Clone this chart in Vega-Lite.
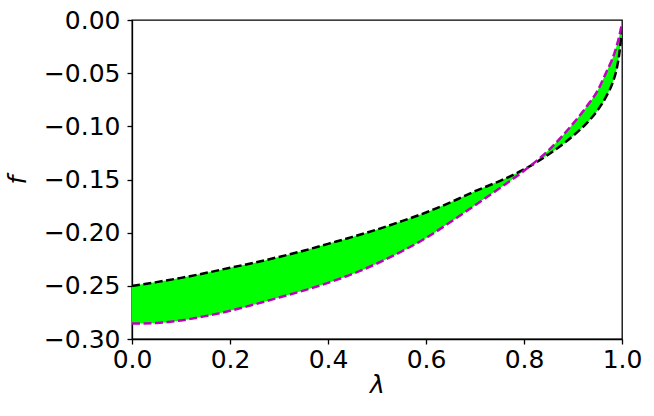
{
  "$schema": "https://vega.github.io/schema/vega-lite/v6.json",
  "autosize": {"type": "none"},
  "padding": {"left": 132, "top": 20, "right": 32, "bottom": 77},
  "width": 490,
  "height": 319,
  "background": "white",
  "config": {
    "view": {"stroke": "black", "strokeWidth": 1.3},
    "font": "DejaVu Sans",
    "axis": {
      "grid": false,
      "domainColor": "black",
      "domainWidth": 1.3,
      "tickColor": "black",
      "tickWidth": 1.3,
      "tickSize": 5,
      "labelFont": "DejaVu Sans",
      "labelFontSize": 25,
      "labelColor": "black",
      "titleFont": "DejaVu Sans",
      "titleFontSize": 25,
      "titleFontStyle": "italic",
      "titleFontWeight": "normal",
      "titleColor": "black"
    }
  },
  "data": {
    "values": [
      {"lam": 0.00, "black": -0.2500, "magenta": -0.2855},
      {"lam": 0.05, "black": -0.2465, "magenta": -0.2850},
      {"lam": 0.10, "black": -0.2425, "magenta": -0.2825},
      {"lam": 0.15, "black": -0.2380, "magenta": -0.2785},
      {"lam": 0.20, "black": -0.2330, "magenta": -0.2735},
      {"lam": 0.25, "black": -0.2282, "magenta": -0.2675},
      {"lam": 0.30, "black": -0.2228, "magenta": -0.2610},
      {"lam": 0.35, "black": -0.2170, "magenta": -0.2545},
      {"lam": 0.40, "black": -0.2105, "magenta": -0.2472},
      {"lam": 0.45, "black": -0.2040, "magenta": -0.2388},
      {"lam": 0.50, "black": -0.1970, "magenta": -0.2290},
      {"lam": 0.55, "black": -0.1893, "magenta": -0.2177},
      {"lam": 0.60, "black": -0.1810, "magenta": -0.2050},
      {"lam": 0.65, "black": -0.1715, "magenta": -0.1900},
      {"lam": 0.70, "black": -0.1610, "magenta": -0.1742},
      {"lam": 0.75, "black": -0.1515, "magenta": -0.1583},
      {"lam": 0.80, "black": -0.1405, "magenta": -0.1418},
      {"lam": 0.85, "black": -0.1265, "magenta": -0.1225},
      {"lam": 0.90, "black": -0.1090, "magenta": -0.0975},
      {"lam": 0.93, "black": -0.0960, "magenta": -0.0800},
      {"lam": 0.95, "black": -0.0850, "magenta": -0.0665},
      {"lam": 0.97, "black": -0.0700, "magenta": -0.0470},
      {"lam": 0.98, "black": -0.0600, "magenta": -0.0370},
      {"lam": 0.99, "black": -0.0440, "magenta": -0.0230},
      {"lam": 0.995, "black": -0.0300, "magenta": -0.0140},
      {"lam": 1.00, "black": -0.0080, "magenta": -0.0030}
    ]
  },
  "encoding": {
    "x": {
      "field": "lam", "type": "quantitative",
      "scale": {"domain": [0, 1], "nice": false, "zero": false},
      "axis": {"title": "λ", "values": [0, 0.2, 0.4, 0.6, 0.8, 1.0], "format": ".1f", "labelPadding": 3, "titlePadding": 0, "labelFlush": false}
    }
  },
  "layer": [
    {
      "mark": {"type": "area", "color": "#00ff00", "interpolate": "monotone", "clip": true},
      "encoding": {
        "y": {
          "field": "black", "type": "quantitative",
          "scale": {"domain": [-0.3, 0], "nice": false, "zero": false},
          "axis": {"title": "f", "values": [0, -0.05, -0.1, -0.15, -0.2, -0.25, -0.3], "format": ".2f", "labelPadding": 7, "titlePadding": 13, "labelFlush": false}
        },
        "y2": {"field": "magenta"}
      }
    },
    {
      "mark": {"type": "line", "color": "black", "strokeWidth": 2.5, "strokeDash": [8, 3.5], "interpolate": "monotone", "clip": true},
      "encoding": {"y": {"field": "black", "type": "quantitative"}}
    },
    {
      "mark": {"type": "line", "color": "#bf00bf", "strokeWidth": 2.5, "strokeDash": [8, 3.5], "interpolate": "monotone", "clip": true},
      "encoding": {"y": {"field": "magenta", "type": "quantitative"}}
    }
  ]
}
